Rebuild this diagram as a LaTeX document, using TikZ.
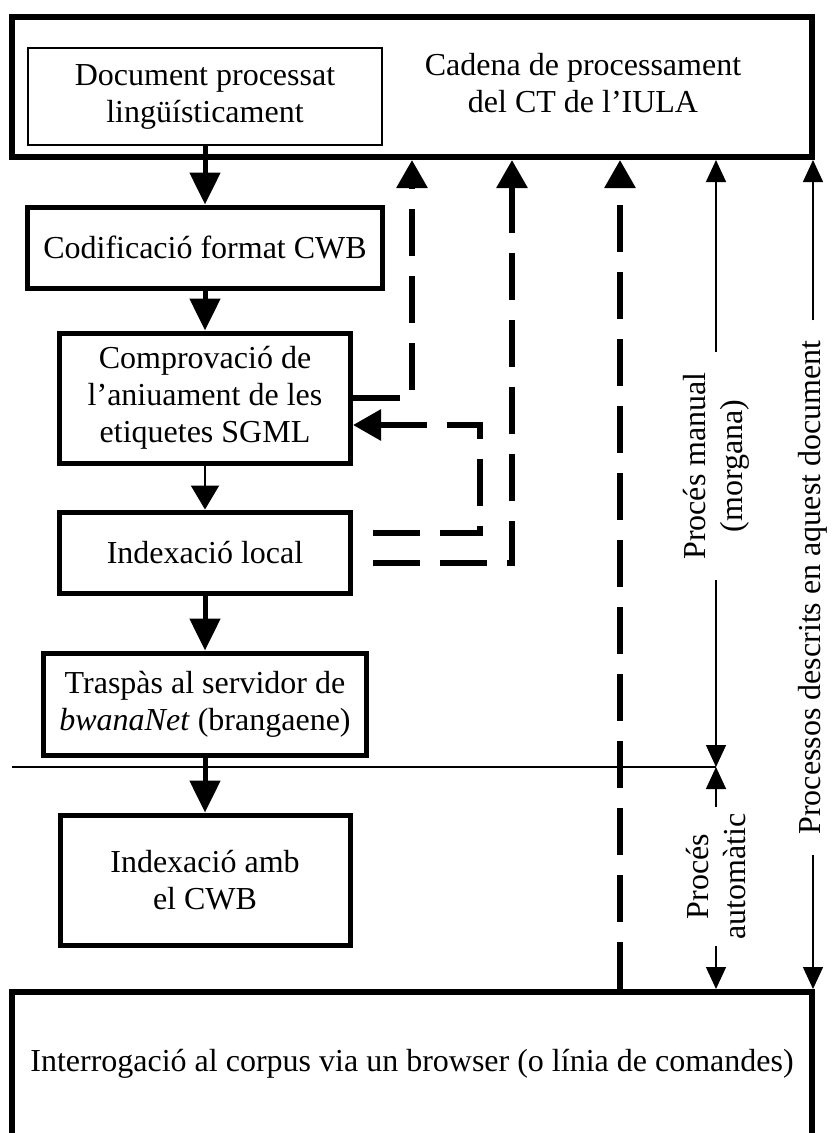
\documentclass[tikz,border=0pt]{standalone}
\usepackage{fontspec}
\setmainfont{Liberation Serif}
\usetikzlibrary{arrows.meta}
\tikzset{blk/.style={draw,line width=5pt,align=center,inner sep=0pt},frame/.style={draw,line width=6pt,align=center,inner sep=0pt},
arr/.style={-{Triangle[length=32pt,width=30pt]},line width=5pt},tarr/.style={-{Triangle[length=24pt,width=28pt]},line width=2pt},
dsh/.style={line width=6pt,dash pattern=on 47pt off 20pt,-{Triangle[length=28pt,width=30pt]}},
dim/.style={line width=1.5pt,-{Triangle[length=22pt,width=20pt]}},vlab/.style={rotate=90,align=center,inner ysep=0pt}}
\begin{document}
\begin{tikzpicture}[x=1pt,y=-1pt,font=\fontsize{32}{37}\selectfont]
\useasboundingbox(0,0)rectangle(834,1133);
\node[frame,minimum width=800pt,minimum height=140pt](top)at(412,87){};
\node[draw,line width=1.5pt,align=center,inner sep=0pt,minimum width=354pt,minimum height=97pt](doc)at(205,96.5){Document processat\\lingüísticament};
\node[align=center](cad)at(583,83){Cadena de processament\\del CT de l’IULA};
\node[blk,minimum width=355pt,minimum height=81pt](cod)at(205,247.5){Codificació format CWB};
\node[blk,minimum width=291pt,minimum height=130pt](comp)at(205,398){Comprovació de\\l’aniuament de les\\etiquetes SGML};
\node[blk,minimum width=291pt,minimum height=81pt](idxl)at(205,552.5){Indexació local};
\node[blk,minimum width=323pt,minimum height=102pt](trasp)at(205,704){Traspàs al servidor de\\\textit{bwanaNet} (brangaene)};
\node[blk,minimum width=290pt,minimum height=130pt](idxc)at(205,880){Indexació amb\\el CWB};
\node[frame,minimum width=800pt,minimum height=144pt](query)at(412,1064){Interrogació al corpus via un browser (o línia de comandes)};
\foreach\a/\b in{doc/cod,cod/comp,idxl/trasp,trasp/idxc}\draw[arr](\a)--(\b);
\draw[tarr](comp)--(idxl);
\coordinate(edge)at(12,767);\coordinate(split)at(716,767);
\draw[line width=1.5pt](edge)--(split);
\node[vlab,inner xsep=20pt](manual)at(716,466){Procés manual\\(morgana)};
\node[vlab,inner xsep=6pt](auto)at(716,876.5){Procés\\automàtic};
\node[vlab,inner xsep=20pt](desc)at(813,587.5){Processos descrits en aquest document};
\draw[dim](manual.east)--(manual.east|-top.south);\draw[dim](manual.west)--(split);
\draw[dim](auto.east)--(split);\draw[dim](auto.west)--(auto.west|-query.north);
\draw[dim](desc.east)--(desc.east|-top.south);\draw[dim](desc.west)--(desc.west|-query.north);
\coordinate(u1)at(412,160);\coordinate(u3)at(512,160);\coordinate(u4)at(620,160);
\draw[dsh](comp.east)-|(u1);
\draw[dsh,dash phase=47pt]([yshift=20pt]idxl.east)--++(127,0)|-([yshift=-27pt]comp.east);
\draw[dsh,dash phase=47pt]([yshift=-10pt]idxl.east)-|(u3);
\draw[dsh](query.north-|u4)--(u4);
\end{tikzpicture}
\end{document}
